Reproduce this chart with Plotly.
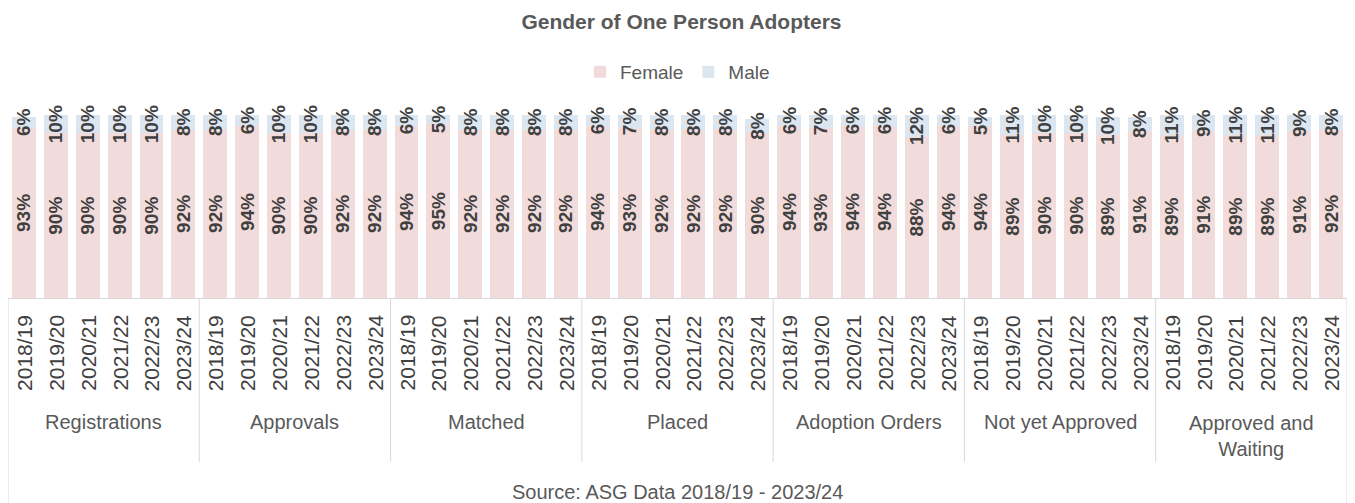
import plotly.graph_objects as go

groups = ["Registrations", "Approvals", "Matched", "Placed",
          "Adoption Orders", "Not yet Approved", "Approved and<br>Waiting"]
years = ["2018/19", "2019/20", "2020/21", "2021/22", "2022/23", "2023/24"]

female = [
    93, 90, 90, 90, 90, 92,
    92, 94, 90, 90, 92, 92,
    94, 95, 92, 92, 92, 92,
    94, 93, 92, 92, 92, 90,
    94, 93, 94, 94, 88, 94,
    94, 89, 90, 90, 89, 91,
    89, 91, 89, 89, 91, 92,
]
male = [
    6, 10, 10, 10, 10, 8,
    8, 6, 10, 10, 8, 8,
    6, 5, 8, 8, 8, 8,
    6, 7, 8, 8, 8, 8,
    6, 7, 6, 6, 12, 6,
    5, 11, 10, 10, 10, 8,
    11, 9, 11, 11, 9, 8,
]

# one unique category per bar, labels are drawn separately below the axis
keys = [f"{g}|{y}" for g in groups for y in years]
FONT = "Liberation Sans, Noto Sans, sans-serif"
DARK = "#404040"
GREY = "#595959"
LINE = "#D9D9D9"
W, H = 1347, 495  # page body adds an 8px margin on the top/left
PH = 183  # plot height in px, used to place things under the axis

fig = go.Figure()
for name, vals, color in [("Female", female, "#F2DCDB"), ("Male", male, "#DCE6F1")]:
    fig.add_trace(go.Bar(
        name=name, x=keys, y=vals,
        marker=dict(color=color, line=dict(width=0)),
        text=[f"{v}%" for v in vals],
        textposition="inside", insidetextanchor="middle",
        textangle=-90, constraintext="none", cliponaxis=False,
        textfont=dict(family=FONT, size=19, color=DARK, weight="bold"),
        hoverinfo="skip",
    ))

fig.update_layout(
    barmode="stack", bargap=0.25,
    width=W, height=H,
    margin=dict(l=0, r=8, t=107, b=205),
    plot_bgcolor="white", paper_bgcolor="white",
    font=dict(family=FONT, color=GREY),
    title=dict(text="<b>Gender of One Person Adopters</b>", x=0.5, xanchor="center",
               y=1 - 14 / H, yanchor="middle", font=dict(size=21, color=GREY)),
    legend=dict(orientation="h", x=0.5, xanchor="center", yref="container",
                y=1 - 64 / H, yanchor="middle", font=dict(size=19, color=GREY),
                itemwidth=30, traceorder="normal"),
)
fig.update_xaxes(showticklabels=False, ticks="", automargin=False,
                 showline=True, linecolor=LINE, linewidth=1, showgrid=False)
fig.update_yaxes(range=[0, 100], visible=False, automargin=False)

# year labels
for k, y in zip(keys, [y for _ in groups for y in years]):
    fig.add_annotation(x=k, y=-15 / PH, xref="x", yref="paper", text=y, textangle=-90,
                       xanchor="center", yanchor="top", showarrow=False,
                       font=dict(family=FONT, size=21, color=DARK))

# group labels and dividers
for i, g in enumerate(groups):
    fig.add_annotation(x=i * len(years) + (len(years) - 1) / 2, y=-(124 if "<br>" not in g else 138) / PH,
                       xref="x", yref="paper", text=g, showarrow=False,
                       xanchor="center", yanchor="middle",
                       font=dict(family=FONT, size=20, color=GREY))
    if i > 0:
        xb = i * len(years) - 0.5
        fig.add_shape(type="line", xref="x", yref="paper", x0=xb, x1=xb, y0=0, y1=-164 / PH,
                      line=dict(color=LINE, width=1))

for xp in (0, 1):
    fig.add_shape(type="line", xref="paper", yref="paper", x0=xp, x1=xp, y0=0, y1=-205 / PH,
                  line=dict(color=LINE, width=1))

fig.add_annotation(text="Source: ASG Data 2018/19 - 2023/24", xref="paper", yref="paper",
                   x=0.5, y=-194 / PH, xanchor="center", yanchor="middle", showarrow=False,
                   font=dict(family=FONT, size=20, color=GREY))

fig.write_html("out.html")
